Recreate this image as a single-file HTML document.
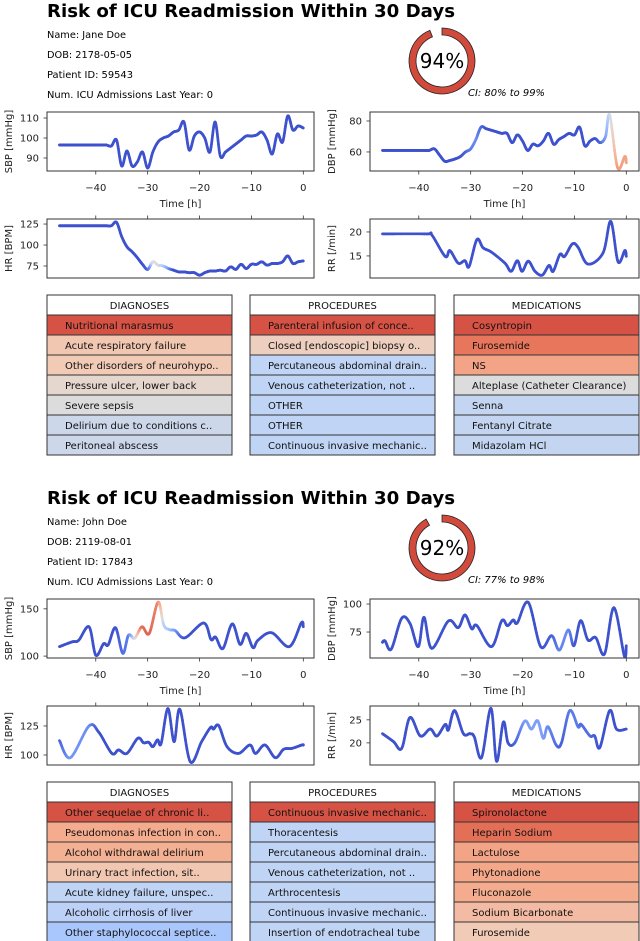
<!DOCTYPE html>
<html><head><meta charset="utf-8"><title>ICU Readmission Risk</title>
<style>
html,body{margin:0;padding:0;background:#fff;}
svg{display:block;font-family:"DejaVu Sans","Liberation Sans",sans-serif;}
</style></head>
<body>
<svg id="root" width="640" height="941" viewBox="0 0 640 941" xmlns="http://www.w3.org/2000/svg">
<defs>
<clipPath id="c1"><rect x="47" y="112" width="267" height="59"/></clipPath>
<clipPath id="c2"><rect x="370" y="112" width="269" height="59"/></clipPath>
<clipPath id="c3"><rect x="47" y="219" width="267" height="59"/></clipPath>
<clipPath id="c4"><rect x="370" y="219" width="269" height="59"/></clipPath>
<clipPath id="c5"><rect x="47" y="599" width="267" height="59"/></clipPath>
<clipPath id="c6"><rect x="370" y="599" width="269" height="59"/></clipPath>
<clipPath id="c7"><rect x="47" y="706" width="267" height="59"/></clipPath>
<clipPath id="c8"><rect x="370" y="706" width="269" height="59"/></clipPath>
</defs>

<g>
<text x="47" y="17" font-size="18" font-weight="bold" textLength="408" lengthAdjust="spacingAndGlyphs">Risk of ICU Readmission Within 30 Days</text>
<text x="47" y="38" font-size="9.5" textLength="79" lengthAdjust="spacingAndGlyphs">Name: Jane Doe</text>
<text x="47" y="58" font-size="9.5" textLength="85" lengthAdjust="spacingAndGlyphs">DOB: 2178-05-05</text>
<text x="47" y="78" font-size="9.5" textLength="86" lengthAdjust="spacingAndGlyphs">Patient ID: 59543</text>
<text x="47" y="98" font-size="9.5" textLength="166" lengthAdjust="spacingAndGlyphs">Num. ICU Admissions Last Year: 0</text>
<g id="donut1"></g>
<text x="442" y="68" font-size="20" text-anchor="middle">94%</text>
<text x="468" y="96" font-size="9.5" font-style="italic" textLength="77" lengthAdjust="spacingAndGlyphs">CI: 80% to 99%</text>
</g>

<g>
<text x="47" y="504" font-size="18" font-weight="bold" textLength="408" lengthAdjust="spacingAndGlyphs">Risk of ICU Readmission Within 30 Days</text>
<text x="47" y="525" font-size="9.5" textLength="80" lengthAdjust="spacingAndGlyphs">Name: John Doe</text>
<text x="47" y="545" font-size="9.5" textLength="85" lengthAdjust="spacingAndGlyphs">DOB: 2119-08-01</text>
<text x="47" y="565" font-size="9.5" textLength="86" lengthAdjust="spacingAndGlyphs">Patient ID: 17843</text>
<text x="47" y="585" font-size="9.5" textLength="166" lengthAdjust="spacingAndGlyphs">Num. ICU Admissions Last Year: 0</text>
<g id="donut2"></g>
<text x="442" y="555" font-size="20" text-anchor="middle">92%</text>
<text x="468" y="583" font-size="9.5" font-style="italic" textLength="77" lengthAdjust="spacingAndGlyphs">CI: 77% to 98%</text>
</g>

<g id="charts"></g>
<g id="tables"></g>
</svg>

<script>
const riskValues = [0.94, 0.92];

const p1SbpTimes = [-47,-46,-45,-44,-43,-42,-41,-40,-39,-38,-37,-36,-35,-34,-33,-32,-31,-30,-29,-28,-27,-26,-25,-24,-23,-22,-21,-20,-19,-18,-17,-16,-15,-14,-13,-12,-11,-10,-9,-8,-7,-6,-5,-4,-3,-2,-1,0];
const p1SbpValues = [96.5,96.5,96.5,96.5,96.5,96.5,96.5,96.5,96.5,96.5,96,99,86,93.5,86,88,93,85,93,98,100,101,103,104,108,94,101,103,100,93,108,91,93,95,97,99,101,101,101.5,103,99,92,102,98,111,104,106,105];
const p1SbpWeights = [0.05,0.05,0.05,0.05,0.05,0.05,0.05,0.05,0.05,0.05,0.05,0.05,0.05,0.05,0.05,0.05,0.05,0.05,0.05,0.05,0.05,0.05,0.05,0.05,0.05,0.05,0.05,0.05,0.05,0.05,0.05,0.05,0.05,0.05,0.05,0.05,0.05,0.05,0.05,0.05,0.05,0.05,0.05,0.05,0.05,0.05,0.05,0.05];

const p1DbpTimes = [-47,-46,-45,-44,-43,-42,-41,-40,-39,-38,-37,-36,-35,-34,-33,-32,-31,-30,-29,-28,-27,-26,-25,-24,-23,-22,-21,-20,-19,-18,-17,-16,-15,-14,-13,-12,-11,-10,-9,-8,-7,-6,-5,-4,-3.2,-1.7,-0.3,0];
const p1DbpValues = [61,61,61,61,61,61,61,61,61,61,62,58,54,54.5,55.5,57,60,62,68,76,75,74,73,72,72,66,71,67,61,65,64,67,72,65,68,70,72,71,76,64,67,68.6,66,70,83.7,50,57,53];
const p1DbpWeights = [0.05,0.05,0.05,0.05,0.05,0.05,0.05,0.05,0.05,0.05,0.05,0.05,0.05,0.05,0.05,0.05,0.1,0.2,0.25,0.15,0.05,0.05,0.05,0.05,0.05,0.05,0.05,0.05,0.05,0.05,0.05,0.05,0.05,0.05,0.05,0.05,0.05,0.05,0.05,0.05,0.05,0.05,0.1,0.3,0.45,0.7,0.68,0.68];

const p1HrTimes = [-47,-46,-45,-44,-43,-42,-41,-40,-39,-38,-37,-36,-35,-34,-33,-32,-31,-30,-29,-28,-27,-26,-25,-24,-23,-22,-21,-20,-19,-18,-17,-16,-15,-14,-13,-12,-11,-10,-9,-8,-7,-6,-5,-4,-3,-2,-1,0];
const p1HrValues = [123,123,123,123,123,123,123,123,123,123,123,127,110,98,92,85,77,71,80,76,75,72,70,68,68,67,67,64,67,69,69,70,69,74,71,77,72,77,77,80,76,78,78,80,87,78,80,81];
const p1HrWeights = [0.05,0.05,0.05,0.05,0.05,0.05,0.05,0.05,0.05,0.05,0.05,0.05,0.05,0.05,0.05,0.05,0.05,0.1,0.5,0.5,0.4,0.3,0.05,0.05,0.05,0.05,0.05,0.05,0.05,0.05,0.05,0.05,0.05,0.05,0.05,0.05,0.05,0.05,0.05,0.05,0.05,0.05,0.05,0.05,0.05,0.05,0.05,0.05];

const p1RrTimes = [-47,-38.5,-37.5,-34.9,-34,-32.4,-31.1,-30.3,-28.8,-27.6,-26,-23.4,-22.2,-21,-20.1,-18.9,-17.6,-16.2,-14.9,-14.1,-12.8,-11.9,-10.4,-9.3,-7.4,-4.5,-3,-1.6,-0.3,0];
const p1RrValues = [19.6,19.6,19.4,14.9,16.1,13.5,14,12.8,18.4,16.7,15.8,13.5,11.8,14,11.8,13.9,11.8,11,13,11.8,15.3,14.9,17.5,16.8,13.3,15.6,22.2,13.8,16.1,14.9];
const p1RrWeights = [0.05,0.05,0.05,0.05,0.05,0.05,0.05,0.05,0.05,0.05,0.05,0.05,0.05,0.05,0.05,0.05,0.05,0.05,0.05,0.05,0.05,0.05,0.05,0.05,0.05,0.05,0.05,0.05,0.05,0.05];

const p2SbpTimes = [-47,-44.6,-43.3,-41.3,-40,-38.5,-37.6,-36.2,-34.8,-33.7,-32.5,-31.1,-29.7,-28,-26.9,-25.8,-24.7,-22.8,-19.2,-17.8,-16.9,-15.5,-13.7,-12.2,-11,-9.7,-8.7,-6.1,-2.7,-0.4,0];
const p2SbpValues = [110,115,116.7,131,101,113,112,130,103,122,119,131,124,157,133,128,127,119.4,135,117.7,120,108,134,112.5,124,109,117,124.7,110,135,131];
const p2SbpWeights = [0.05,0.05,0.05,0.05,0.05,0.05,0.05,0.05,0.15,0.2,0.45,0.82,0.85,0.75,0.42,0.38,0.3,0.05,0.05,0.05,0.05,0.05,0.05,0.05,0.05,0.05,0.05,0.05,0.05,0.05,0.05];

const p2DbpTimes = [-47,-46.5,-45.3,-43.3,-41.7,-40.1,-39,-37.5,-34.3,-32.4,-31.1,-29.8,-28.8,-26,-24,-22.9,-21.8,-21,-18.9,-16.5,-14.4,-12.9,-11.2,-10.1,-8.8,-7.4,-5.9,-4.2,-2.4,-0.4,0];
const p2DbpValues = [65.8,67,59.8,87.2,82.7,61.9,88.1,60.4,84.8,78.9,90.2,78,80.7,61.9,85.1,80.7,85.7,83.3,101.5,61.9,71.7,58.9,76.8,62.8,85.1,67.9,70,55.4,96.7,53.9,62.8];
const p2DbpWeights = [0.05,0.05,0.05,0.05,0.05,0.05,0.05,0.05,0.05,0.05,0.05,0.05,0.05,0.05,0.05,0.05,0.05,0.05,0.05,0.05,0.1,0.22,0.25,0.08,0.05,0.05,0.05,0.05,0.05,0.05,0.05];

const p2HrTimes = [-47,-44.9,-41.3,-39.4,-36.9,-35.6,-34,-31.9,-30.8,-29.8,-29,-28.1,-27.4,-26.1,-24.9,-23.8,-21.8,-19.6,-17.9,-17.3,-16.3,-14.7,-12.5,-10.3,-9.2,-7.4,-5.4,-3.8,-2.2,-0.3,0];
const p2HrValues = [112.4,97.7,125,119.5,101.4,104.3,101.4,114.4,110.6,110.9,107.2,113,110,140,111.5,139.4,94.3,111.5,123.6,122.4,125.3,107.2,101.4,108.6,101.4,108.6,97.7,104.9,105.7,108.6,108.6];
const p2HrWeights = [0.1,0.28,0.25,0.05,0.05,0.05,0.05,0.05,0.05,0.05,0.05,0.05,0.05,0.05,0.05,0.05,0.05,0.05,0.05,0.05,0.05,0.05,0.05,0.05,0.05,0.05,0.05,0.05,0.05,0.05,0.05];

const p2RrTimes = [-47,-44.9,-43.3,-41.7,-39.7,-37.8,-36.5,-34.9,-34.3,-33.1,-31.4,-30.1,-29.3,-27.9,-26.1,-25,-23.7,-22.8,-21.5,-19.6,-18.3,-17.1,-16,-15.1,-13.5,-12.5,-10.9,-9.3,-8.7,-7,-6.1,-5.1,-3.2,-1.9,0];
const p2RrValues = [22,20.3,18.8,25.5,21.5,23,21.5,24,22.8,27,22,22,21.3,16.8,27.5,16,24.5,20,20,24.7,23,24.8,21,23.5,19.5,20,27,23.5,24,21.5,21.5,19,27,23,23];
const p2RrWeights = [0.05,0.05,0.05,0.05,0.05,0.05,0.05,0.05,0.05,0.05,0.05,0.05,0.05,0.05,0.05,0.05,0.05,0.05,0.1,0.3,0.3,0.3,0.3,0.25,0.15,0.1,0.2,0.2,0.15,0.15,0.1,0.05,0.05,0.05,0.05];

const xTickValues = [-40,-30,-20,-10,0];
const xTickLabels = ["\u221240","\u221230","\u221220","\u221210","0"];

const p1Diagnoses = ["Nutritional marasmus","Acute respiratory failure","Other disorders of neurohypo..","Pressure ulcer, lower back","Severe sepsis","Delirium due to conditions c..","Peritoneal abscess"];
const p1DiagnosisScores = [0.9,0.59,0.58,0.53,0.5,0.46,0.46];
const p1Procedures = ["Parenteral infusion of conce..","Closed [endoscopic] biopsy o..","Percutaneous abdominal drain..","Venous catheterization, not ..","OTHER","OTHER","Continuous invasive mechanic.."];
const p1ProcedureScores = [0.9,0.56,0.43,0.43,0.43,0.43,0.43];
const p1Medications = ["Cosyntropin","Furosemide","NS","Alteplase (Catheter Clearance)","Senna","Fentanyl Citrate","Midazolam HCl"];
const p1MedicationScores = [0.9,0.8,0.68,0.5,0.44,0.44,0.44];

const p2Diagnoses = ["Other sequelae of chronic li..","Pseudomonas infection in con..","Alcohol withdrawal delirium","Urinary tract infection, sit..","Acute kidney failure, unspec..","Alcoholic cirrhosis of liver","Other staphylococcal septice.."];
const p2DiagnosisScores = [0.9,0.66,0.65,0.59,0.43,0.42,0.38];
const p2Procedures = ["Continuous invasive mechanic..","Thoracentesis","Percutaneous abdominal drain..","Venous catheterization, not ..","Arthrocentesis","Continuous invasive mechanic..","Insertion of endotracheal tube"];
const p2ProcedureScores = [0.9,0.43,0.43,0.43,0.43,0.43,0.43];
const p2Medications = ["Spironolactone","Heparin Sodium","Lactulose","Phytonadione","Fluconazole","Sodium Bicarbonate","Furosemide"];
const p2MedicationScores = [0.9,0.82,0.68,0.67,0.66,0.62,0.58];

const NS = "http://www.w3.org/2000/svg";
function mk(tag, attrs, parent){
  const e = document.createElementNS(NS, tag);
  for (const k in attrs) e.setAttribute(k, attrs[k]);
  if (parent) parent.appendChild(e);
  return e;
}
const cmStops = [[0,[52,68,196]],[0.2,[92,124,236]],[0.3,[124,159,249]],[0.38,[170,199,253]],[0.43,[192,212,245]],[0.5,[221,220,220]],[0.58,[242,203,183]],[0.67,[245,168,137]],[0.8,[232,118,92]],[0.9,[214,82,68]],[1,[180,4,38]]];
function coolwarm(w){
  w = Math.max(0, Math.min(1, w));
  for (let i = 1; i < cmStops.length; i++){
    if (w <= cmStops[i][0]){
      const a = cmStops[i-1], b = cmStops[i];
      const f = (w - a[0]) / (b[0] - a[0]);
      const c = a[1].map((v, j) => Math.round(v + (b[1][j] - v) * f));
      return "rgb(" + c.join(",") + ")";
    }
  }
  return "rgb(180,4,38)";
}

function drawDonut(gid, cx, cy, frac){
  const g = document.getElementById(gid);
  const r = 29.5, th = 7;
  const a0 = -Math.PI/2, a1 = a0 + frac * 2 * Math.PI;
  const ro = r + th/2, ri = r - th/2;
  const p = (rad, a) => [cx + rad*Math.cos(a), cy + rad*Math.sin(a)];
  const large = frac > 0.5 ? 1 : 0;
  const [x1,y1] = p(ro,a0), [x2,y2] = p(ro,a1), [x3,y3] = p(ri,a1), [x4,y4] = p(ri,a0);
  const d = `M${x1},${y1} A${ro},${ro} 0 ${large} 1 ${x2},${y2} L${x3},${y3} A${ri},${ri} 0 ${large} 0 ${x4},${y4} Z`;
  const arc = mk("path", {d: d, fill: "#d24a3c", stroke: "#222", "stroke-width": "0.8"}, g);
  
  
}
drawDonut("donut1", 442, 61, riskValues[0]);
drawDonut("donut2", 442, 548, riskValues[1]);

const chartsG = document.getElementById("charts");
function drawChart(cfg){
  const g = mk("g", {}, chartsG);
  
  
  const tmin = -49.4, tmax = 2.06 + (cfg.x1 - cfg.x0 - 267) / 5.19;
  const sx = t => cfg.x0 + (t - tmin) / (tmax - tmin) * (cfg.x1 - cfg.x0);
  const sy = v => cfg.y1 - (v - cfg.vmin) / (cfg.vmax - cfg.vmin) * (cfg.y1 - cfg.y0);
  const lg = mk("g", {"clip-path": "url(#" + cfg.clip + ")"}, g);
  
  
  const pts = cfg.times.map((t, i) => [sx(t), sy(cfg.values[i])]);
  const n = pts.length, steps = 14;
  for (let i = 0; i < n - 1; i++){
    const p0 = pts[Math.max(0, i-1)], p1 = pts[i], p2 = pts[i+1], p3 = pts[Math.min(n-1, i+2)];
    let prev = p1;
    for (let s = 1; s <= steps; s++){
      const u = s / steps, u2 = u*u, u3 = u2*u;
      const x = 0.5*((2*p1[0]) + (-p0[0]+p2[0])*u + (2*p0[0]-5*p1[0]+4*p2[0]-p3[0])*u2 + (-p0[0]+3*p1[0]-3*p2[0]+p3[0])*u3);
      const y = 0.5*((2*p1[1]) + (-p0[1]+p2[1])*u + (2*p0[1]-5*p1[1]+4*p2[1]-p3[1])*u2 + (-p0[1]+3*p1[1]-3*p2[1]+p3[1])*u3);
      const w = cfg.weights[i] + (cfg.weights[i+1] - cfg.weights[i]) * (u - 0.5/steps);
      mk("line", {x1: prev[0], y1: prev[1], x2: x, y2: y, stroke: coolwarm(w), "stroke-width": "2.7", "stroke-linecap": "round"}, lg);
      prev = [x, y];
    }
  }
  const box = mk("rect", {x: cfg.x0, y: cfg.y0, width: cfg.x1 - cfg.x0, height: cfg.y1 - cfg.y0, fill: "none", stroke: "#333", "stroke-width": "1"}, g);
  
  
  cfg.yticks.forEach(v => {
    const y = sy(v);
    mk("line", {x1: cfg.x0 - 3.5, y1: y, x2: cfg.x0, y2: y, stroke: "#333", "stroke-width": "0.8"}, g);
    const tl = mk("text", {x: cfg.x0 - 8, y: y + 3.6, "font-size": "10", "text-anchor": "end", fill: "#222"}, g);
    tl.textContent = String(v);
    
    
  });
  const yc = (cfg.y0 + cfg.y1) / 2, yx = cfg.x0 - 35;
  const yt = mk("text", {x: yx, y: yc, "font-size": "10", "text-anchor": "middle", transform: `rotate(-90 ${yx} ${yc})`, fill: "#222"}, g);
  yt.textContent = cfg.ylabel;
  
  
  xTickValues.forEach((t, i) => {
    const x = sx(t);
    if (cfg.bottomAxis){
      mk("line", {x1: x, y1: cfg.y1, x2: x, y2: cfg.y1 + 3.5, stroke: "#333", "stroke-width": "0.8"}, g);
      const xl = mk("text", {x: x, y: cfg.y1 + 20, "font-size": "10", "text-anchor": "middle", fill: "#222"}, g);
      xl.textContent = xTickLabels[i];
      
      
    } else {
      mk("line", {x1: x, y1: cfg.y0 - 3.5, x2: x, y2: cfg.y0, stroke: "#333", "stroke-width": "0.8"}, g);
    }
  });
  if (cfg.bottomAxis){
    const xt = mk("text", {x: (cfg.x0 + cfg.x1) / 2, y: cfg.y1 + 36, "font-size": "10", "text-anchor": "middle", fill: "#222"}, g);
    xt.textContent = "Time [h]";
    
    
  }
}

const L = [47, 314], R = [370, 639];
function panelCharts(oy, p, S, D, H, Rr){
  drawChart({name: p + "-sbp-chart", clip: S.clip, x0: L[0], x1: L[1], y0: 112+oy, y1: 171+oy, vmin: S.vmin, vmax: S.vmax, yticks: S.ticks, ylabel: "SBP [mmHg]", times: S.t, values: S.v, weights: S.w, bottomAxis: true});
  drawChart({name: p + "-dbp-chart", clip: D.clip, x0: R[0], x1: R[1], y0: 112+oy, y1: 171+oy, vmin: D.vmin, vmax: D.vmax, yticks: D.ticks, ylabel: "DBP [mmHg]", times: D.t, values: D.v, weights: D.w, bottomAxis: true});
  drawChart({name: p + "-hr-chart", clip: H.clip, x0: L[0], x1: L[1], y0: 219+oy, y1: 278+oy, vmin: H.vmin, vmax: H.vmax, yticks: H.ticks, ylabel: "HR [BPM]", times: H.t, values: H.v, weights: H.w, bottomAxis: false});
  drawChart({name: p + "-rr-chart", clip: Rr.clip, x0: R[0], x1: R[1], y0: 219+oy, y1: 278+oy, vmin: Rr.vmin, vmax: Rr.vmax, yticks: Rr.ticks, ylabel: "RR [/min]", times: Rr.t, values: Rr.v, weights: Rr.w, bottomAxis: false});
}
panelCharts(0, "p1",
  {clip: "c1", vmin: 83.5, vmax: 113, ticks: [90,100,110], t: p1SbpTimes, v: p1SbpValues, w: p1SbpWeights},
  {clip: "c2", vmin: 47.7, vmax: 85.8, ticks: [60,80], t: p1DbpTimes, v: p1DbpValues, w: p1DbpWeights},
  {clip: "c3", vmin: 60.7, vmax: 131, ticks: [75,100,125], t: p1HrTimes, v: p1HrValues, w: p1HrWeights},
  {clip: "c4", vmin: 10.4, vmax: 22.7, ticks: [15,20], t: p1RrTimes, v: p1RrValues, w: p1RrWeights});
panelCharts(487, "p2",
  {clip: "c5", vmin: 98, vmax: 160.4, ticks: [100,150], t: p2SbpTimes, v: p2SbpValues, w: p2SbpWeights},
  {clip: "c6", vmin: 51.8, vmax: 104.5, ticks: [75,100], t: p2DbpTimes, v: p2DbpValues, w: p2DbpWeights},
  {clip: "c7", vmin: 91.4, vmax: 142.2, ticks: [100,125], t: p2HrTimes, v: p2HrValues, w: p2HrWeights},
  {clip: "c8", vmin: 15.2, vmax: 28, ticks: [20,25], t: p2RrTimes, v: p2RrValues, w: p2RrWeights});

const tablesG = document.getElementById("tables");
function drawTable(name, title, x, y, items, scores){
  const g = mk("g", {}, tablesG);
  
  
  const w = 185, rh = 20;
  mk("rect", {x: x, y: y, width: w, height: rh, fill: "#fff", stroke: "#333", "stroke-width": "1"}, g);
  const ht = mk("text", {x: x + w/2, y: y + 14, "font-size": "10", "text-anchor": "middle", fill: "#111"}, g);
  ht.textContent = title;
  
  
  items.forEach((it, i) => {
    const ry = y + rh * (i + 1);
    const r = mk("rect", {x: x, y: ry, width: w, height: rh, fill: coolwarm(scores[i]), stroke: "#333", "stroke-width": "1"}, g);
    
    
    const t = mk("text", {x: x + 18, y: ry + 14, "font-size": "10", fill: "#111"}, g);
    t.textContent = it;
    
    
  });
}
drawTable("p1-diagnoses-table", "DIAGNOSES", 47, 295, p1Diagnoses, p1DiagnosisScores);
drawTable("p1-procedures-table", "PROCEDURES", 250, 295, p1Procedures, p1ProcedureScores);
drawTable("p1-medications-table", "MEDICATIONS", 454, 295, p1Medications, p1MedicationScores);
drawTable("p2-diagnoses-table", "DIAGNOSES", 47, 782, p2Diagnoses, p2DiagnosisScores);
drawTable("p2-procedures-table", "PROCEDURES", 250, 782, p2Procedures, p2ProcedureScores);
drawTable("p2-medications-table", "MEDICATIONS", 454, 782, p2Medications, p2MedicationScores);
</script>
</body></html>
